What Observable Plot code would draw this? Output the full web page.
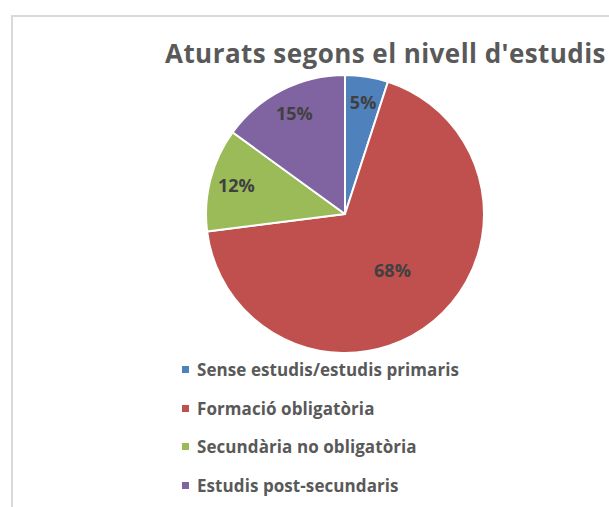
<!DOCTYPE html>
<html>
<head>
<meta charset="utf-8">
<script src="https://cdn.jsdelivr.net/npm/d3@7"></script>
<script src="https://cdn.jsdelivr.net/npm/@observablehq/plot@0.6"></script>
<style>
  html, body { margin: 0; padding: 0; background: #fff; }
  #wrap { position: relative; width: 609px; height: 507px; overflow: hidden; font-family: "Open Sans", sans-serif; }
  #frame { position: absolute; left: 11px; top: 15px; width: 700px; height: 600px;
           border-top: 2px solid #d9d9d9; border-left: 2px solid #d9d9d9; }
  #title { position: absolute; left: 165px; top: 40px; margin: 0; font-weight: 700; font-size: 26px;
           line-height: 1; color: #595959; white-space: nowrap; }
  #pie { position: absolute; left: 195px; top: 64px; }
  .leg { position: absolute; left: 182px; height: 20px; white-space: nowrap; }
  .leg .sw { position: absolute; left: 0; width: 7px; height: 7px; }
  .leg .tx { position: absolute; left: 15px; top: 0; font-weight: 700; font-size: 17px; line-height: 1; color: #595959; }
</style>
</head>
<body>
<div id="wrap">
  <div id="frame"></div>
  <div id="title">Aturats segons el nivell d'estudis</div>
  <div id="pie"></div>
  <div id="legend"></div>
</div>
<script>
// ---- data ----
const categories = ["Sense estudis/estudis primaris", "Formació obligatòria", "Secundària no obligatòria", "Estudis post-secundaris"];
const shares = [5, 68, 12, 15];
const labels = ["5%", "68%", "12%", "15%"];
const colors = ["#4f81bd", "#c0504d", "#9bbb59", "#8064a2"];

const table = categories.map((c, i) => ({category: c, share: shares[i], label: labels[i]}));
const arcs = d3.pie().sort(null).value(d => d.share)(table);
const total = d3.sum(shares);
// label anchor positions in unit-circle coordinates (computed from the pie layout)
const labelData = table.map((d, i) => {
  const a = (arcs[i].startAngle + arcs[i].endAngle) / 2;
  const r = d.share / total > 0.5 ? 0.53 : 0.81;
  return {...d, lx: Math.sin(a) * r, ly: -Math.cos(a) * r};
});

const R = 139;
const size = 300;
const c = size / 2;

const chart = Plot.plot({
  width: size,
  height: size,
  margin: 0,
  x: {domain: [-1, 1], range: [c - R, c + R], axis: null},
  y: {domain: [-1, 1], range: [c - R, c + R], axis: null},
  color: {domain: categories, range: colors},
  marks: [
    Plot.dot(table, {
      x: () => 0, y: () => 0, fill: "category",
      render(index, scales, values) {
        const cx = scales.x(0), cy = scales.y(0);
        const rad = scales.x(1) - cx;
        const arcGen = d3.arc().innerRadius(0).outerRadius(rad);
        const g = d3.create("svg:g");
        g.selectAll("path").data(index).join("path")
          .attr("transform", `translate(${cx},${cy})`)
          .attr("d", i => arcGen(arcs[i]))
          .attr("fill", i => values.fill[i])
          .attr("stroke", "#fff")
          .attr("stroke-width", 2)
          .attr("stroke-linejoin", "round");
        return g.node();
      }
    }),
    Plot.text(labelData, {
      x: "lx", y: "ly", text: "label",
      fill: "#404040", fontSize: 18, fontWeight: 700,
      fontFamily: "Open Sans, sans-serif"
    })
  ]
});
document.getElementById("pie").appendChild(chart);

// legend
const legend = document.getElementById("legend");
categories.forEach((cat, i) => {
  const row = document.createElement("div");
  row.className = "leg";
  row.style.top = (361 + i * 38.7) + "px";
  const sw = document.createElement("div");
  sw.className = "sw";
  sw.style.background = colors[i];
  sw.style.top = "5px";
  const tx = document.createElement("div");
  tx.className = "tx";
  tx.textContent = cat;
  row.appendChild(sw);
  row.appendChild(tx);
  legend.appendChild(row);
});

// fit widths to reference proportions via letter spacing
function fit(el, target) {
  const w = el.getBoundingClientRect().width;
  const n = el.textContent.length;
  el.style.letterSpacing = ((target - w) / n) + "px";
}
fit(document.getElementById("title"), 441);
const txs = document.querySelectorAll(".leg .tx");
const w0 = txs[0].getBoundingClientRect().width;
const ls = (262 - w0) / txs[0].textContent.length;
txs.forEach(t => t.style.letterSpacing = ls + "px");
</script>
</body>
</html>
